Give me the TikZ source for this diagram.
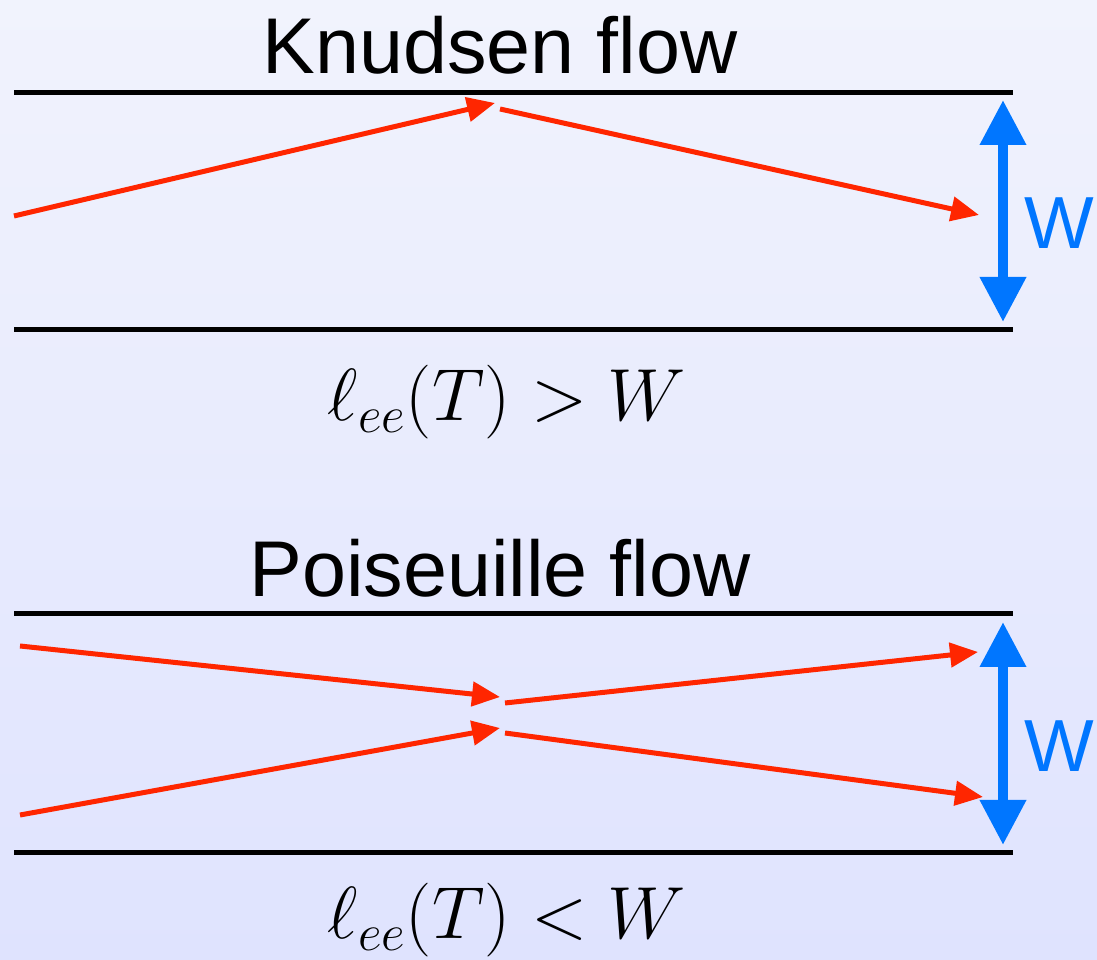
\RequirePackage{fix-cm}
\documentclass[tikz,border=0pt]{standalone}
\usepackage[no-math]{fontspec}
\setmainfont{Liberation Sans}
\usetikzlibrary{arrows.meta,positioning}
\definecolor{piros}{RGB}{255,38,0}
\definecolor{kek}{RGB}{0,118,255}
\definecolor{hatter1}{RGB}{241,243,253}
\definecolor{hatter2}{RGB}{223,227,254}
\tikzset{
  fal/.style={line width=1mm},
  palya/.style={draw=piros,line width=1mm,-{Triangle[length=5.6mm,width=4.8mm]}},
  szel/.style={draw=kek,line width=2mm,
    {Triangle[length=9mm,width=8.8mm]}-{Triangle[length=9mm,width=8.8mm]}},
  cim/.style={anchor=base,inner sep=0pt,font=\fontsize{45}{54}\selectfont},
  felt/.style={anchor=base,inner sep=0pt,font=\fontsize{42}{50}\selectfont},
  wbetu/.style={anchor=base west,inner sep=0pt,text=kek,font=\fontsize{42}{50}\selectfont},
}

\begin{document}
\begin{tikzpicture}
  \shade[top color=hatter1,bottom color=hatter2] (0,0) rectangle (21.94,19.2);
  \useasboundingbox (0,0) rectangle (21.94,19.2);

  % Knudsen
  \node[cim] (kcim) at (10.0,17.72) {Knudsen flow};
  \coordinate (kf1) at (0.28,17.35);  \coordinate (kf2) at (20.26,17.35);
  \coordinate (ka1) at (0.28,12.6);   \coordinate (ka2) at (20.26,12.6);
  \draw[fal] (kf1) -- (kf2);
  \draw[fal] (ka1) -- (ka2);
  \coordinate (k0) at (0.28,14.88);
  \coordinate (k1) at (9.9,17.14);
  \coordinate (k2) at (10.0,17.02);
  \coordinate (k3) at (19.58,14.9);
  \draw[palya] (k0) -- (k1);
  \draw[palya] (k2) -- (k3);
  \coordinate (kw1) at (20.06,17.2);  \coordinate (kw2) at (20.06,12.76);
  \draw[szel] (kw1) -- (kw2);
  \node[wbetu] (kw) at (20.48,14.22) {W};
  \node[felt] (kfelt) at (10.14,10.78) {$\ell_{ee}(T) > W$};

  % Poiseuille
  \node[cim] (pcim) at (10.0,7.26) {Poiseuille flow};
  \coordinate (pf1) at (0.28,6.92);   \coordinate (pf2) at (20.26,6.92);
  \coordinate (pa1) at (0.28,2.14);   \coordinate (pa2) at (20.26,2.14);
  \draw[fal] (pf1) -- (pf2);
  \draw[fal] (pa1) -- (pa2);
  \coordinate (p0) at (0.4,6.28);
  \coordinate (p1) at (10.0,5.26);
  \coordinate (q0) at (0.4,2.9);
  \coordinate (q1) at (10.0,4.64);
  \coordinate (p2) at (10.1,5.14);
  \coordinate (p3) at (19.56,6.16);
  \coordinate (q2) at (10.1,4.54);
  \coordinate (q3) at (19.66,3.26);
  \draw[palya] (p0) -- (p1);
  \draw[palya] (q0) -- (q1);
  \draw[palya] (p2) -- (p3);
  \draw[palya] (q2) -- (q3);
  \coordinate (pw1) at (20.06,6.76);  \coordinate (pw2) at (20.06,2.3);
  \draw[szel] (pw1) -- (pw2);
  \node[wbetu] (pw) at (20.48,3.76) {W};
  \node[felt] (pfelt) at (10.14,0.42) {$\ell_{ee}(T) < W$};
\end{tikzpicture}
\end{document}
